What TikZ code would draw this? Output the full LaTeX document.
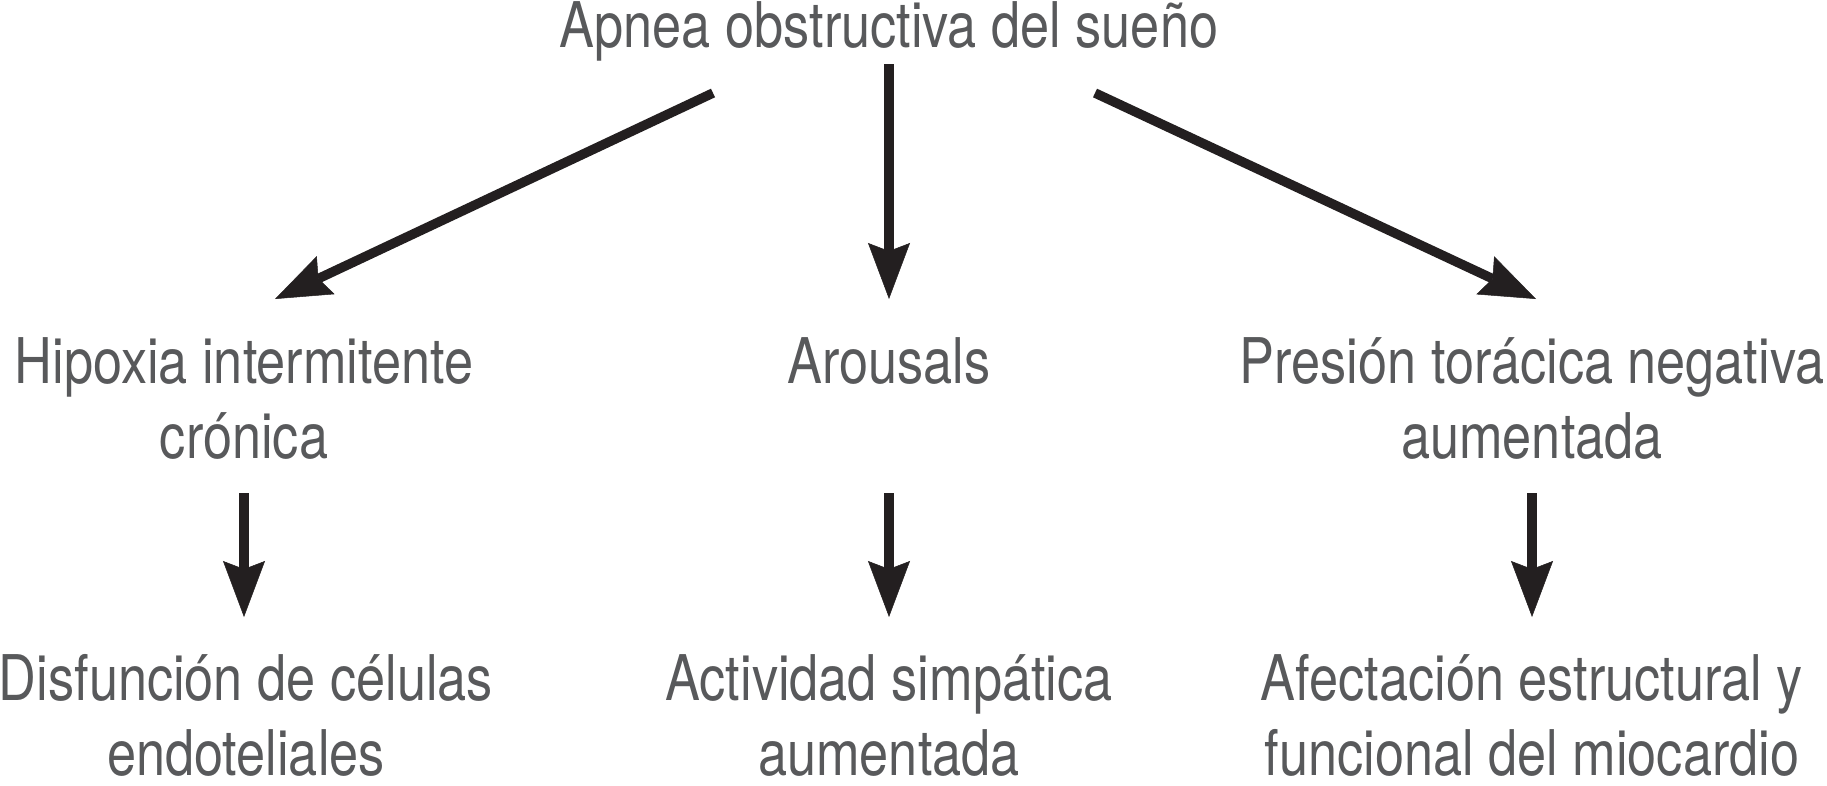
\documentclass[tikz,border=0pt]{standalone}
\usepackage{fontspec}
\setmainfont{TeX Gyre Heros}[FakeStretch=0.83]
\usetikzlibrary{arrows.meta}
\definecolor{txtgray}{HTML}{58595B}
\definecolor{arrowblack}{HTML}{231F20}
\tikzset{
  lbl/.style={anchor=base, inner sep=0pt, outer sep=0pt, align=center, text=txtgray,
    font=\fontsize{63pt}{75pt}\selectfont},
  arr/.style={draw=arrowblack, line width=9.5pt,
    -{Stealth[length=56pt, width=42pt, inset=8pt, line width=0.5pt, fill=arrowblack]}}
}
\begin{document}
\begin{tikzpicture}[x=1pt, y=-1pt]
\useasboundingbox (0,0) rectangle (1827,785);
% base anchor of a two-line node = baseline of its last line
\node[lbl] (top) at (889,47) {Apnea obstructiva del sueño};
\node[lbl] (hip) at (244,458) {Hipoxia intermitente\\crónica};
\node[lbl] (aro) at (889,383) {Arousals};
\node[lbl] (pre) at (1532,458) {Presión torácica negativa\\aumentada};
\node[lbl] (dis) at (246,775) {Disfunción de células\\endoteliales};
\node[lbl] (act) at (889,775) {Actividad simpática\\aumentada};
\node[lbl] (afe) at (1532,775) {Afectación estructural y\\funcional del miocardio};
\draw[arr] ([shift={(-176,46)}]top.base) -- ([shift={(31,-159)}]hip.base);
\draw[arr] ([shift={(0,17)}]top.base) -- ([shift={(0,-84)}]aro.base);
\draw[arr] ([shift={(206,46)}]top.base) -- ([shift={(4,-159)}]pre.base);
\draw[arr] ([shift={(0,35)}]hip.base) -- ([shift={(-2,-158)}]dis.base);
\draw[arr] ([shift={(0,110)}]aro.base) -- ([shift={(0,-158)}]act.base);
\draw[arr] ([shift={(0,35)}]pre.base) -- ([shift={(0,-158)}]afe.base);
\end{tikzpicture}
\end{document}
